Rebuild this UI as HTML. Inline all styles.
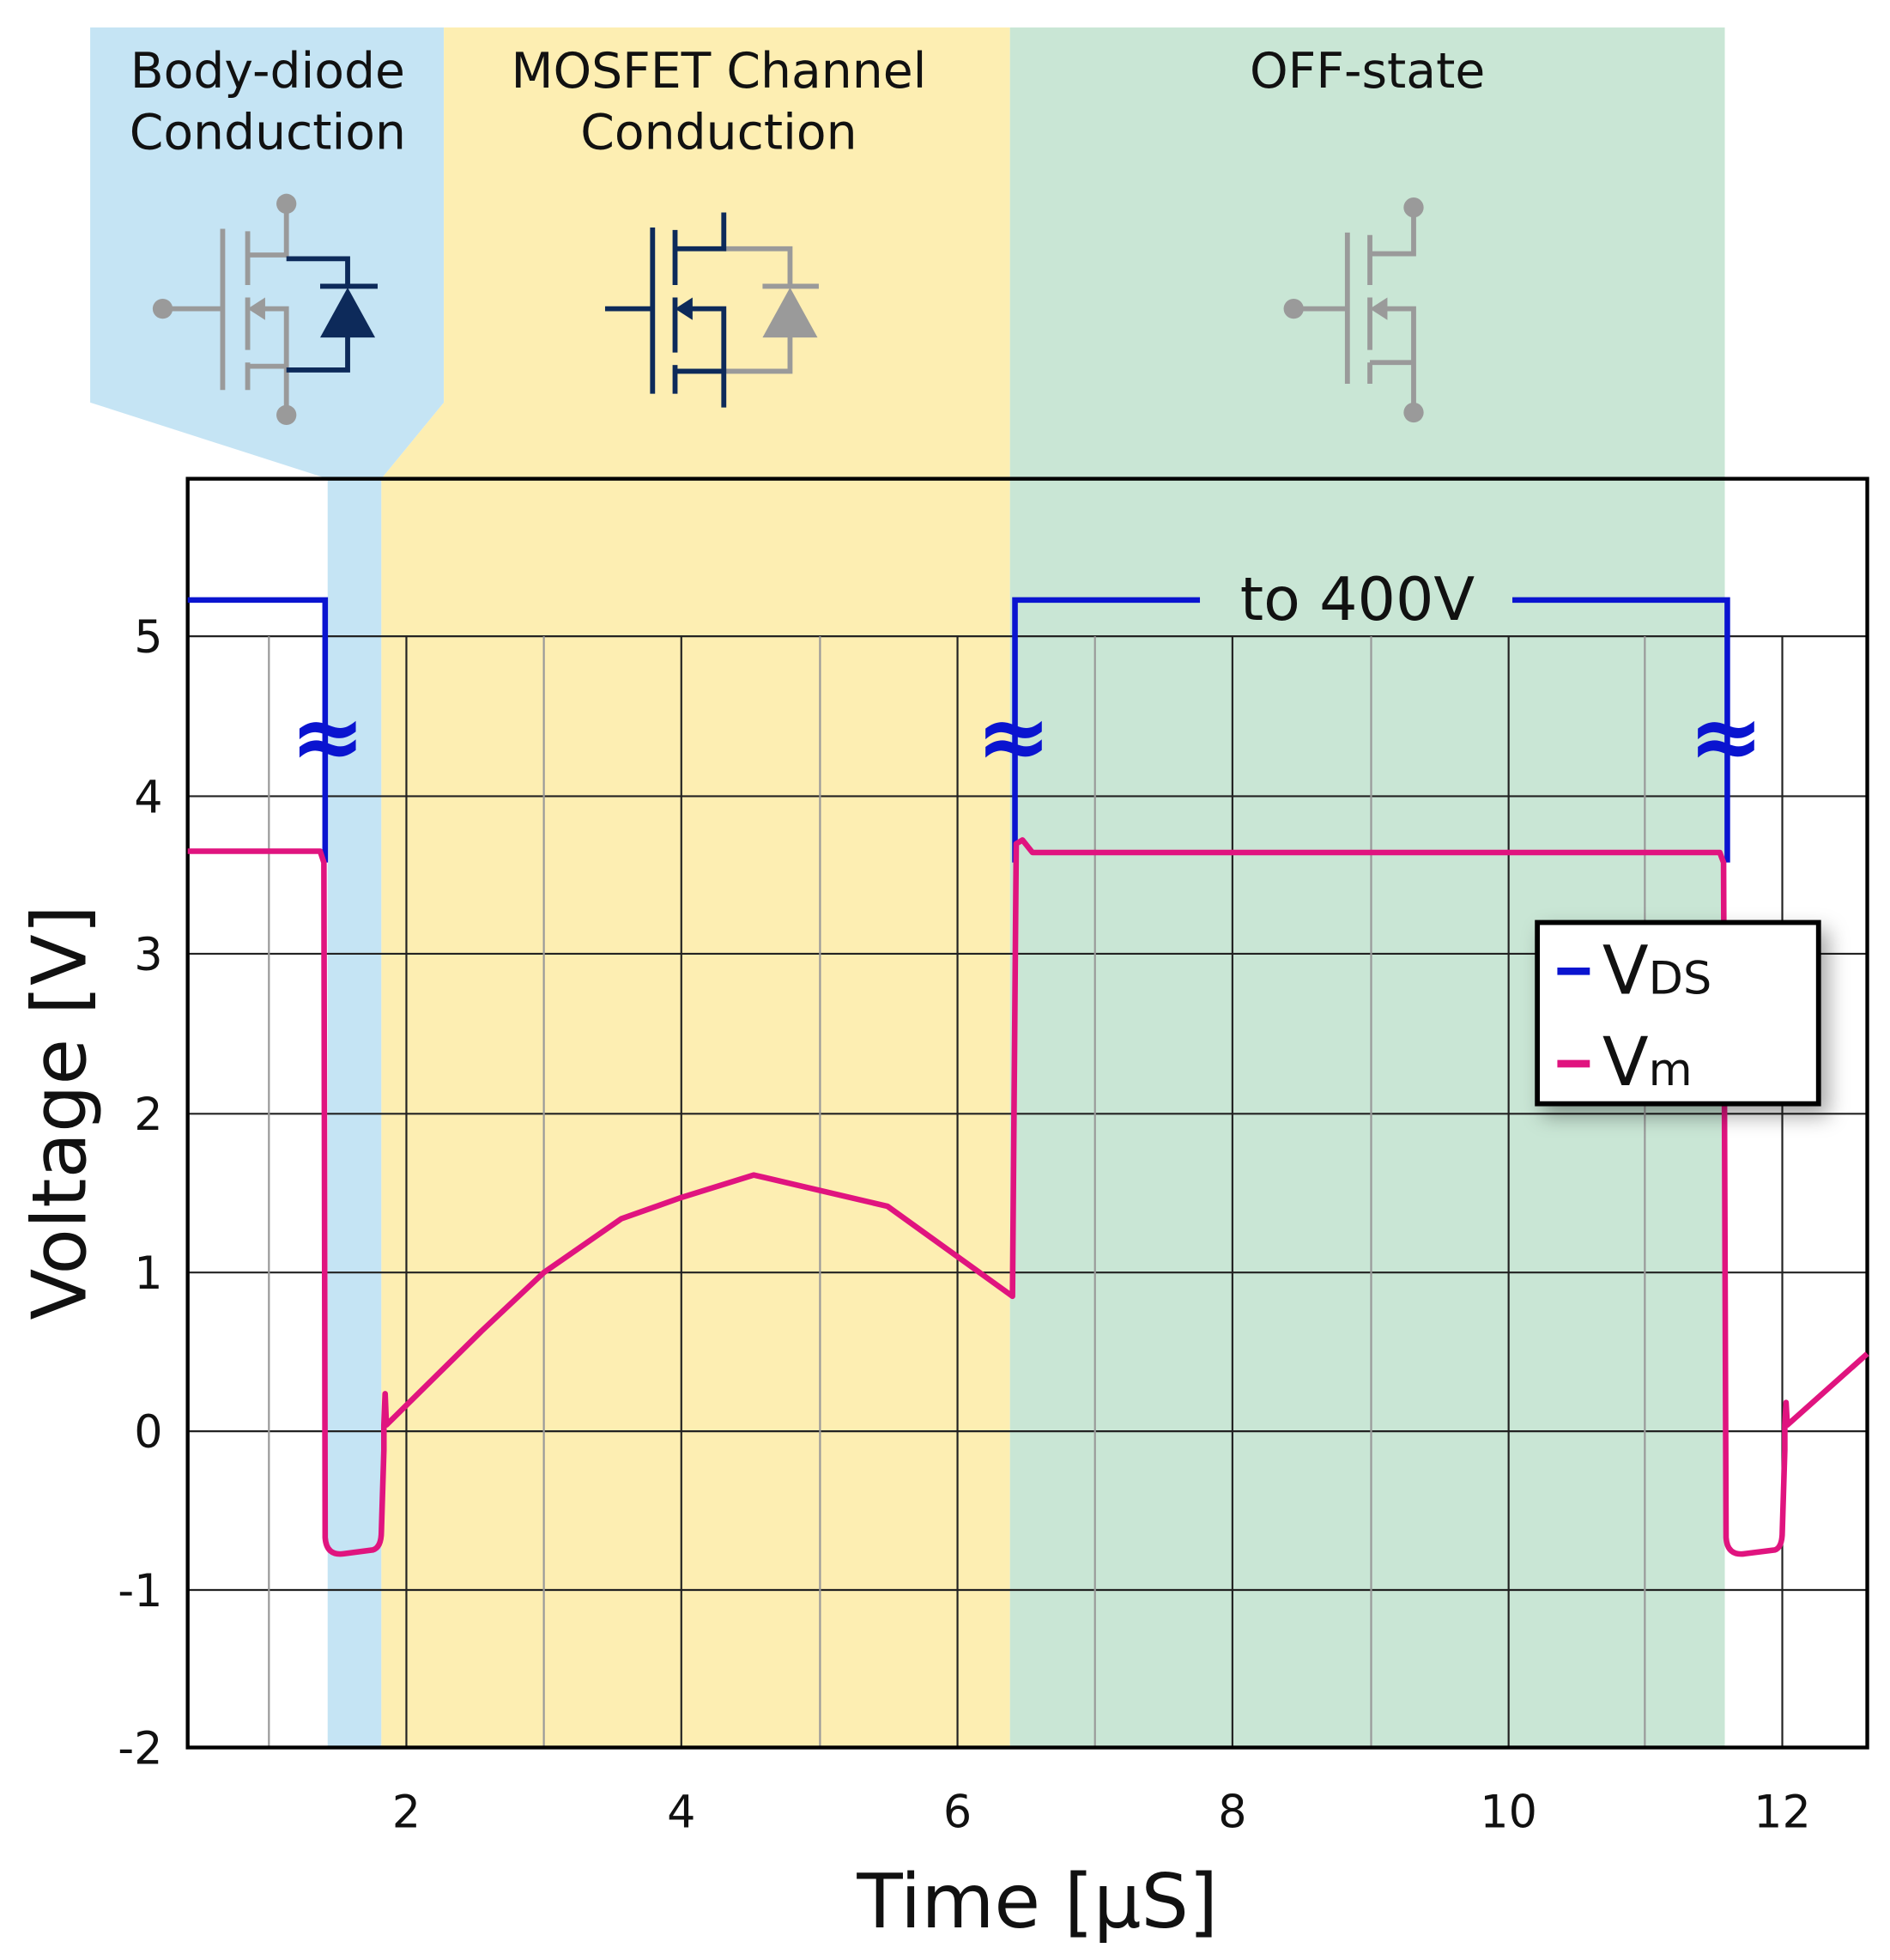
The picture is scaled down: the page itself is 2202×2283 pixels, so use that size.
<!DOCTYPE html>
<html><head><meta charset="utf-8"><style>html,body{margin:0;padding:0;background:#fff}svg{display:block}</style></head>
<body>
<svg width="2202" height="2283" viewBox="0 0 1512 1568" xmlns="http://www.w3.org/2000/svg" font-family="DejaVu Sans, Liberation Sans, sans-serif">
<defs>
<filter id="sh" x="-20%" y="-20%" width="150%" height="150%"><feDropShadow dx="6" dy="8" stdDeviation="8" flood-color="#000" flood-opacity="0.35"/></filter>
</defs>
<rect width="1512" height="1568" fill="#fff"/>
<polygon points="72,22 355,22 355,322 305,383 305,1398 262,1398 262,383 72,322" fill="#c5e4f4"/>
<polygon points="355,22 808,22 808,1398 305,1398 305,383 355,322" fill="#fdeeb2"/>
<rect x="808" y="22" width="572" height="1376" fill="#c9e6d5"/>
<g font-size="39" fill="#111" text-anchor="middle">
<text x="214" y="70">Body-diode</text><text x="214" y="119">Conduction</text>
<text x="575" y="70">MOSFET Channel</text><text x="575" y="119">Conduction</text>
<text x="1094" y="70">OFF-state</text>
</g>
<g stroke-width="4" fill="none">
<g stroke="#9a9a9a">
<line x1="130" y1="247" x2="178" y2="247"/><line x1="178" y1="183" x2="178" y2="312"/>
<line x1="198" y1="185" x2="198" y2="228"/><line x1="198" y1="238" x2="198" y2="280"/><line x1="198" y1="290" x2="198" y2="312"/>
<polyline points="229,163 229,204 198,204"/>
<polyline points="210,247 229,247 229,332"/><line x1="198" y1="293" x2="229" y2="293"/>
</g>
<g stroke="#0d2a5a">
<polyline points="229,207 278,207 278,230"/><polyline points="278,268 278,296 229,296"/>
<line x1="256" y1="229" x2="302" y2="229"/>
</g>
</g>
<circle cx="130" cy="247" r="8" fill="#9a9a9a"/><circle cx="229" cy="163" r="8" fill="#9a9a9a"/><circle cx="229" cy="332" r="8" fill="#9a9a9a"/>
<polygon points="198,247 212,238 212,256" fill="#9a9a9a"/>
<polygon points="278,230 256,270 300,270" fill="#0d2a5a"/>
<g stroke-width="4" fill="none">
<g stroke="#9a9a9a">
<polyline points="579,199 632,199 632,230"/><polyline points="632,268 632,297 579,297"/>
<line x1="610" y1="229" x2="655" y2="229"/>
</g>
<g stroke="#0d2a5a">
<line x1="484" y1="247" x2="522" y2="247"/><line x1="522" y1="182" x2="522" y2="315"/>
<line x1="540" y1="184" x2="540" y2="228"/><line x1="540" y1="238" x2="540" y2="282"/><line x1="540" y1="292" x2="540" y2="315"/>
<polyline points="579,170 579,199 540,199"/>
<polyline points="552,247 579,247 579,326"/><line x1="540" y1="297" x2="579" y2="297"/>
</g>
</g>
<polygon points="540,247 554,238 554,256" fill="#0d2a5a"/>
<polygon points="632,230 610,270 654,270" fill="#9a9a9a"/>
<g stroke-width="4" fill="none" stroke="#9a9a9a">
<line x1="1035" y1="247" x2="1078" y2="247"/><line x1="1078" y1="186" x2="1078" y2="307"/>
<line x1="1096" y1="188" x2="1096" y2="228"/><line x1="1096" y1="238" x2="1096" y2="280"/><line x1="1096" y1="290" x2="1096" y2="307"/>
<polyline points="1131,167 1131,203 1096,203"/>
<polyline points="1108,247 1131,247 1131,330"/><line x1="1096" y1="290" x2="1131" y2="290"/>
</g>
<circle cx="1035" cy="247" r="8" fill="#9a9a9a"/><circle cx="1131" cy="166" r="8" fill="#9a9a9a"/><circle cx="1131" cy="330" r="8" fill="#9a9a9a"/>
<polygon points="1096,247 1110,238 1110,256" fill="#9a9a9a"/>
<g stroke="#222" stroke-width="1.5">
<line x1="150" y1="509" x2="1494" y2="509"/><line x1="150" y1="637" x2="1494" y2="637"/>
<line x1="150" y1="763" x2="1494" y2="763"/><line x1="150" y1="891" x2="1494" y2="891"/>
<line x1="150" y1="1018" x2="1494" y2="1018"/><line x1="150" y1="1145" x2="1494" y2="1145"/>
<line x1="150" y1="1272" x2="1494" y2="1272"/>
<line x1="325" y1="509" x2="325" y2="1398"/><line x1="545" y1="509" x2="545" y2="1398"/>
<line x1="766" y1="509" x2="766" y2="1398"/><line x1="986" y1="509" x2="986" y2="1398"/>
<line x1="1207" y1="509" x2="1207" y2="1398"/><line x1="1426" y1="509" x2="1426" y2="1398"/>
</g>
<g stroke="#999" stroke-width="1.5">
<line x1="215" y1="509" x2="215" y2="1398"/><line x1="435" y1="509" x2="435" y2="1398"/>
<line x1="656" y1="509" x2="656" y2="1398"/><line x1="876" y1="509" x2="876" y2="1398"/>
<line x1="1097" y1="509" x2="1097" y2="1398"/><line x1="1316" y1="509" x2="1316" y2="1398"/>
</g>
<rect x="150" y="383" width="1344" height="1015" fill="none" stroke="#000" stroke-width="3"/>
<g stroke="#0a14d0" stroke-width="4.5" fill="none">
<polyline points="150,480 260,480 260,690"/>
<polyline points="812,690 812,480 960,480"/>
<polyline points="1210,480 1382,480 1382,690"/>
</g>
<g fill="#0a14d0" font-size="72" text-anchor="middle" font-weight="bold">
<text x="262" y="614">≈</text><text x="811" y="614">≈</text><text x="1381" y="614">≈</text>
</g>
<text x="1086" y="496" font-size="48" fill="#111" text-anchor="middle">to 400V</text>
<g stroke="#e0147f" stroke-width="4.5" fill="none" stroke-linejoin="round">
<path d="M150,681 L256,681 L259,690 L260,1230 Q261,1245 275,1243 L298,1240 Q305,1238 305,1225 L307,1160 L307,1140 L308,1115 L309,1140 L385,1065 L435,1018 L497,975 L545,958 L603,940 L710,965 L810,1037 L813,675 L818,672 L826,682 L1376,682 L1379,690 L1381,1230 Q1382,1245 1396,1243 L1420,1240 Q1426,1238 1426,1225 L1428,1160 L1428,1140 L1429,1122 L1430,1140 L1494,1083"/>
</g>
<rect x="1230" y="738" width="225" height="145" fill="#fff" stroke="#000" stroke-width="4" filter="url(#sh)"/>
<line x1="1246" y1="777" x2="1272" y2="777" stroke="#0a14d0" stroke-width="6"/>
<line x1="1246" y1="851" x2="1272" y2="851" stroke="#e0147f" stroke-width="6"/>
<text x="1282" y="795" font-size="54" fill="#111">V<tspan font-size="36">DS</tspan></text>
<text x="1282" y="868" font-size="54" fill="#111">V<tspan font-size="36">m</tspan></text>
<g font-size="36" fill="#111" text-anchor="end">
<text x="130" y="522">5</text><text x="130" y="650">4</text><text x="130" y="776">3</text>
<text x="130" y="904">2</text><text x="130" y="1031">1</text><text x="130" y="1158">0</text>
<text x="130" y="1285">-1</text><text x="130" y="1411">-2</text>
</g>
<g font-size="36" fill="#111" text-anchor="middle">
<text x="325" y="1462">2</text><text x="545" y="1462">4</text><text x="766" y="1462">6</text>
<text x="986" y="1462">8</text><text x="1207" y="1462">10</text><text x="1426" y="1462">12</text>
</g>
<text x="830" y="1542" font-size="60" fill="#111" text-anchor="middle">Time [µS]</text>
<text transform="translate(68,890) rotate(-90)" font-size="60" fill="#111" text-anchor="middle">Voltage [V]</text>
</svg>
</body></html>
